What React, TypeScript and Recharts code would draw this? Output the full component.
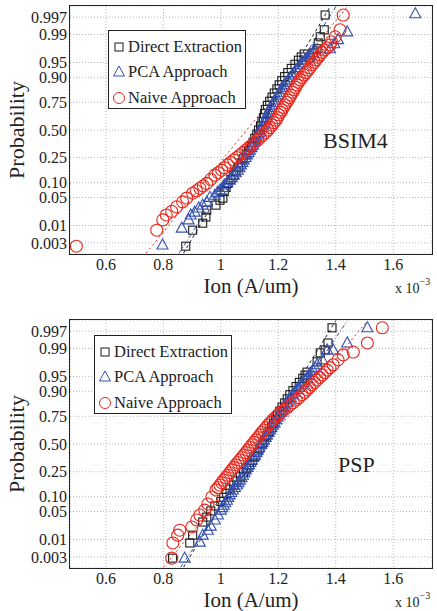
import React from 'react'
import {
  ScatterChart,
  Scatter,
  XAxis,
  YAxis,
  CartesianGrid,
  ReferenceLine,
} from 'recharts'

const FONT = '"Liberation Serif", "Times New Roman", serif'

const BLACK = '#1a1a1a'
const BLUE = '#3550b0'
const RED = '#e8281e'

// axis ticks: x in 1e-3 A/um, y is the normal quantile of each probability label
const xTicks = [0.6, 0.8, 1, 1.2, 1.4, 1.6]
const probLabels = ['0.003', '0.01', '0.05', '0.10', '0.25', '0.50', '0.75', '0.90', '0.95', '0.99', '0.997']
const probZ = [-2.748, -2.326, -1.645, -1.282, -0.674, 0, 0.674, 1.282, 1.645, 2.326, 2.748]

type Pt = [number, number] // [Ion, quantile]

// ---- BSIM4 panel ----
const bsimDirect: Pt[] = [
  [0.878, -2.83], [0.902, -2.44], [0.937, -2.27], [0.948, -2.12], [0.951, -1.95],
  [0.983, -1.83], [0.997, -1.71], [1.007, -1.66], [1.012, -1.5], [1.018, -1.4],
  [1.025, -1.3], [1.035, -1.2], [1.045, -1.1], [1.053, -1.0], [1.062, -0.9],
  [1.07, -0.8], [1.078, -0.7], [1.088, -0.6], [1.097, -0.5], [1.105, -0.4],
  [1.112, -0.3], [1.118, -0.2], [1.125, -0.1], [1.131, 0], [1.138, 0.1],
  [1.143, 0.2], [1.148, 0.3], [1.152, 0.4], [1.155, 0.5], [1.162, 0.6],
  [1.17, 0.7], [1.178, 0.8], [1.186, 0.9], [1.195, 1.0], [1.203, 1.1],
  [1.212, 1.2], [1.222, 1.3], [1.233, 1.4], [1.245, 1.5], [1.258, 1.6],
  [1.27, 1.7], [1.28, 1.78], [1.29, 1.85], [1.311, 1.76], [1.321, 1.88],
  [1.335, 1.98], [1.339, 2.12], [1.346, 2.27], [1.36, 2.44], [1.363, 2.8],
]
const bsimPca: Pt[] = [
  [0.797, -2.8], [0.864, -2.39], [0.888, -2.19], [0.895, -2.07], [0.909, -2.0],
  [0.923, -1.9], [0.937, -1.83], [0.951, -1.76], [0.962, -1.64], [0.979, -1.59],
  [0.988, -1.52], [0.997, -1.46], [1.006, -1.4], [1.014, -1.34], [1.022, -1.28],
  [1.031, -1.22], [1.038, -1.16], [1.045, -1.1], [1.052, -1.04], [1.059, -0.98],
  [1.065, -0.92], [1.07, -0.85], [1.075, -0.79], [1.08, -0.73], [1.086, -0.67],
  [1.091, -0.61], [1.096, -0.55], [1.101, -0.49], [1.107, -0.43], [1.112, -0.37],
  [1.116, -0.3], [1.119, -0.24], [1.124, -0.18], [1.129, -0.12], [1.133, -0.06],
  [1.136, 0], [1.141, 0.06], [1.147, 0.12], [1.151, 0.18], [1.154, 0.24],
  [1.158, 0.3], [1.161, 0.37], [1.165, 0.43], [1.168, 0.49], [1.173, 0.55],
  [1.178, 0.61], [1.183, 0.67], [1.188, 0.73], [1.194, 0.79], [1.199, 0.85],
  [1.204, 0.92], [1.209, 0.98], [1.214, 1.04], [1.22, 1.1], [1.227, 1.16],
  [1.234, 1.22], [1.241, 1.28], [1.248, 1.34], [1.255, 1.4], [1.262, 1.46],
  [1.269, 1.52], [1.276, 1.59], [1.284, 1.65], [1.293, 1.71], [1.302, 1.77],
  [1.311, 1.83], [1.32, 1.89], [1.328, 1.95], [1.38, 1.98], [1.395, 2.1],
  [1.408, 2.2], [1.44, 2.39], [1.677, 2.83],
]
const bsimNaive: Pt[] = [
  [0.497, -2.83], [0.777, -2.44], [0.798, -2.19], [0.81, -2.07], [0.829, -1.98],
  [0.846, -1.87], [0.867, -1.75], [0.881, -1.66], [0.902, -1.54], [0.915, -1.48],
  [0.927, -1.42], [0.939, -1.36], [0.951, -1.3], [0.965, -1.2], [0.979, -1.1],
  [0.991, -1.04], [1.003, -0.98], [1.013, -0.92], [1.024, -0.85], [1.034, -0.79],
  [1.045, -0.73], [1.055, -0.67], [1.066, -0.61], [1.077, -0.55], [1.087, -0.49],
  [1.097, -0.43], [1.108, -0.37], [1.118, -0.3], [1.129, -0.24], [1.138, -0.18],
  [1.147, -0.12], [1.156, -0.06], [1.164, 0], [1.171, 0.06], [1.178, 0.12],
  [1.185, 0.18], [1.192, 0.24], [1.197, 0.3], [1.202, 0.37], [1.208, 0.43],
  [1.213, 0.49], [1.218, 0.55], [1.223, 0.61], [1.229, 0.67], [1.234, 0.73],
  [1.239, 0.79], [1.244, 0.85], [1.25, 0.92], [1.255, 0.98], [1.26, 1.04],
  [1.265, 1.1], [1.27, 1.16], [1.276, 1.22], [1.283, 1.28], [1.29, 1.34],
  [1.297, 1.4], [1.304, 1.46], [1.311, 1.52], [1.318, 1.59], [1.325, 1.65],
  [1.332, 1.71], [1.339, 1.77], [1.346, 1.83], [1.353, 1.89], [1.36, 1.95],
  [1.37, 2.0], [1.38, 2.07], [1.385, 2.15], [1.398, 2.27], [1.415, 2.44],
  [1.426, 2.8],
]
const bsimFitDirect: Pt[] = [[0.87, -3], [1.38, 3]]
const bsimFitPca: Pt[] = [[0.855, -3], [1.4, 3]]
const bsimFitNaive: Pt[] = [[0.74, -3], [1.44, 3]]

// ---- PSP panel ----
const pspDirect: Pt[] = [
  [0.832, -2.78], [0.892, -2.41], [0.902, -2.22], [0.937, -1.9], [0.951, -1.78],
  [0.965, -1.63], [0.979, -1.51], [1.0, -1.4], [1.01, -1.3], [1.02, -1.2],
  [1.032, -1.1], [1.045, -1.0], [1.056, -0.9], [1.068, -0.8], [1.079, -0.7],
  [1.09, -0.6], [1.1, -0.5], [1.11, -0.4], [1.119, -0.3], [1.128, -0.2],
  [1.136, -0.1], [1.145, 0], [1.152, 0.1], [1.16, 0.2], [1.168, 0.3],
  [1.176, 0.4], [1.183, 0.5], [1.19, 0.6], [1.197, 0.7], [1.205, 0.8],
  [1.213, 0.9], [1.222, 1.0], [1.231, 1.1], [1.24, 1.2], [1.251, 1.3],
  [1.262, 1.4], [1.273, 1.5], [1.285, 1.6], [1.293, 1.68], [1.3, 1.75],
  [1.335, 2.0], [1.346, 2.22], [1.363, 2.29], [1.373, 2.46], [1.387, 2.83],
]
const pspPca: Pt[] = [
  [0.874, -2.78], [0.927, -2.39], [0.937, -2.22], [0.955, -2.1], [0.965, -2.0],
  [0.979, -1.85], [0.99, -1.73], [1.0, -1.61], [1.005, -1.55], [1.01, -1.49],
  [1.015, -1.43], [1.021, -1.37], [1.026, -1.3], [1.031, -1.24], [1.036, -1.18],
  [1.042, -1.12], [1.049, -1.06], [1.056, -1.0], [1.061, -0.94], [1.066, -0.88],
  [1.072, -0.82], [1.077, -0.76], [1.082, -0.7], [1.087, -0.63], [1.093, -0.57],
  [1.098, -0.51], [1.103, -0.45], [1.108, -0.39], [1.113, -0.33], [1.119, -0.27],
  [1.124, -0.21], [1.129, -0.15], [1.134, -0.08], [1.14, -0.02], [1.145, 0.04],
  [1.15, 0.1], [1.156, 0.16], [1.161, 0.22], [1.166, 0.28], [1.171, 0.34],
  [1.176, 0.4], [1.181, 0.46], [1.187, 0.52], [1.192, 0.59], [1.197, 0.65],
  [1.202, 0.71], [1.208, 0.77], [1.213, 0.83], [1.218, 0.89], [1.223, 0.95],
  [1.23, 1.01], [1.237, 1.07], [1.244, 1.13], [1.251, 1.2], [1.258, 1.26],
  [1.265, 1.32], [1.272, 1.38], [1.279, 1.44], [1.286, 1.5], [1.293, 1.56],
  [1.3, 1.62], [1.307, 1.68], [1.314, 1.74], [1.321, 1.8], [1.328, 1.86],
  [1.335, 1.93], [1.353, 2.05], [1.37, 2.29], [1.391, 2.29], [1.44, 2.46],
  [1.51, 2.83],
]
const pspNaive: Pt[] = [
  [0.829, -2.78], [0.833, -2.41], [0.85, -2.22], [0.857, -2.1], [0.899, -2.02],
  [0.916, -1.85], [0.927, -1.73], [0.944, -1.61], [0.955, -1.46], [0.969, -1.29],
  [0.983, -1.12], [0.99, -1.06], [0.997, -1.0], [1.003, -0.94], [1.01, -0.88],
  [1.017, -0.82], [1.024, -0.76], [1.031, -0.7], [1.038, -0.63], [1.045, -0.57],
  [1.052, -0.51], [1.059, -0.45], [1.066, -0.39], [1.073, -0.33], [1.08, -0.27],
  [1.087, -0.21], [1.094, -0.15], [1.101, -0.08], [1.108, -0.02], [1.115, 0.04],
  [1.122, 0.1], [1.129, 0.16], [1.136, 0.22], [1.143, 0.28], [1.15, 0.34],
  [1.157, 0.4], [1.164, 0.46], [1.172, 0.52], [1.181, 0.59], [1.19, 0.65],
  [1.199, 0.71], [1.21, 0.77], [1.22, 0.83], [1.23, 0.89], [1.241, 0.95],
  [1.252, 1.01], [1.262, 1.07], [1.272, 1.13], [1.283, 1.2], [1.292, 1.26],
  [1.3, 1.32], [1.309, 1.38], [1.318, 1.44], [1.326, 1.5], [1.335, 1.56],
  [1.344, 1.62], [1.353, 1.68], [1.362, 1.74], [1.37, 1.8], [1.38, 1.86],
  [1.391, 1.93], [1.408, 2.05], [1.426, 2.17], [1.461, 2.24], [1.51, 2.46],
  [1.562, 2.83],
]
const pspFitDirect: Pt[] = [[0.87, -3], [1.4, 3]]
const pspFitPca: Pt[] = [[0.86, -3], [1.44, 3]]
const pspFitNaive: Pt[] = [[0.8, -3], [1.51, 3]]

const legendNames = ['Direct Extraction', 'PCA Approach', 'Naive Approach']

const toRows = (pts: Pt[]) => pts.map(([x, y]) => ({ x, y }))

const SquareMark = (p: any) => (
  <rect x={p.cx - 4} y={p.cy - 4} width={8} height={8} fill="none" stroke={BLACK} strokeWidth={1.1} />
)
const TriangleMark = (p: any) => (
  <polygon
    points={`${p.cx},${p.cy - 6} ${p.cx - 5.5},${p.cy + 4} ${p.cx + 5.5},${p.cy + 4}`}
    fill="none"
    stroke={BLUE}
    strokeWidth={1.1}
  />
)
const CircleMark = (p: any) => <circle cx={p.cx} cy={p.cy} r={6} fill="none" stroke={RED} strokeWidth={1.1} />

function LegendBox({ left, top }: { left: number; top: number }) {
  const icons = [
    <rect key="s" x={3} y={3} width={8} height={8} fill="none" stroke={BLACK} strokeWidth={1} />,
    <polygon key="t" points="7,1 1.5,11 12.5,11" fill="none" stroke={BLUE} strokeWidth={1} />,
    <circle key="c" cx={7} cy={7} r={5.5} fill="none" stroke={RED} strokeWidth={1} />,
  ]
  return (
    <div
      style={{
        position: 'absolute',
        left,
        top,
        width: 138,
        height: 79,
        border: '1.5px solid #222',
        background: '#fff',
        boxSizing: 'border-box',
        fontFamily: FONT,
        fontSize: 16.5,
        color: '#222',
        paddingTop: 3,
      }}
    >
      {legendNames.map((name, i) => (
        <div key={name} style={{ display: 'flex', alignItems: 'center', height: 25.5, paddingLeft: 3 }}>
          <svg width={14} height={14} style={{ marginRight: 2 }}>
            {icons[i]}
          </svg>
          <span style={{ whiteSpace: 'nowrap' }}>{name}</span>
        </div>
      ))}
    </div>
  )
}

interface PanelProps {
  top: number
  direct: Pt[]
  pca: Pt[]
  naive: Pt[]
  fits: Pt[][]
  tag: string
  tagLeft: number
  tagTop: number
  legendLeft: number
  legendTop: number
}

function Panel({ top, direct, pca, naive, fits, tag, tagLeft, tagTop, legendLeft, legendTop }: PanelProps) {
  const fitStyles = [
    { stroke: BLACK, dash: '3 3' },
    { stroke: BLUE, dash: '4 2 1 2' },
    { stroke: RED, dash: '2 3' },
  ]
  return (
    <div style={{ position: 'absolute', left: 0, top, width: 437, height: 300 }}>
      <ScatterChart width={437} height={300} margin={{ top: 6, right: 5, bottom: 0, left: 0 }}>
        <CartesianGrid stroke="#b8b8b8" strokeDasharray="1 2" />
        <XAxis
          type="number"
          dataKey="x"
          domain={[0.475, 1.735]}
          ticks={xTicks}
          allowDataOverflow
          height={46}
          tickSize={0}
          tickMargin={5}
          axisLine={false}
          tick={{ fontSize: 16, fill: '#222', fontFamily: FONT }}
        />
        <YAxis
          type="number"
          dataKey="y"
          domain={[-3.02, 3.02]}
          ticks={probZ}
          allowDataOverflow
          width={70}
          tickSize={0}
          tickMargin={3}
          axisLine={false}
          interval={0}
          tickFormatter={(v: number) => probLabels[probZ.indexOf(v)] ?? ''}
          tick={{ fontSize: 16, fill: '#222', fontFamily: FONT }}
        />
        {fits.map((seg, i) => (
          <ReferenceLine
            key={i}
            segment={seg.map(([x, y]) => ({ x, y }))}
            stroke={fitStyles[i].stroke}
            strokeDasharray={fitStyles[i].dash}
            strokeWidth={1}
            ifOverflow="visible"
          />
        ))}
        <Scatter data={toRows(direct)} shape={SquareMark} isAnimationActive={false} />
        <Scatter data={toRows(pca)} shape={TriangleMark} isAnimationActive={false} />
        <Scatter data={toRows(naive)} shape={CircleMark} isAnimationActive={false} />
      </ScatterChart>
      <div
        style={{
          position: 'absolute',
          left: 69,
          top: 5,
          width: 364,
          height: 250,
          border: '1.5px solid #222',
          boxSizing: 'border-box',
          pointerEvents: 'none',
        }}
      />
      <LegendBox left={legendLeft} top={legendTop} />
      <div style={{ position: 'absolute', left: tagLeft, top: tagTop, fontFamily: FONT, fontSize: 22, color: '#222' }}>
        {tag}
      </div>
      <div
        style={{
          position: 'absolute',
          left: 201,
          top: 276,
          width: 100,
          textAlign: 'center',
          fontFamily: FONT,
          fontSize: 21,
          lineHeight: '20px',
          color: '#222',
          whiteSpace: 'nowrap',
        }}
      >
        Ion (A/um)
      </div>
      <div style={{ position: 'absolute', left: 395, top: 281, fontFamily: FONT, fontSize: 14, color: '#222', whiteSpace: 'nowrap' }}>
        x 10<sup style={{ fontSize: 10, verticalAlign: 'top', position: 'relative', top: -5 }}>−3</sup>
      </div>
      <div
        style={{
          position: 'absolute',
          left: 17,
          top: 130,
          transform: 'translate(-50%, -50%) rotate(-90deg)',
          fontFamily: FONT,
          fontSize: 22,
          color: '#222',
          whiteSpace: 'nowrap',
        }}
      >
        Probability
      </div>
    </div>
  )
}

export default function App() {
  return (
    <div style={{ position: 'absolute', left: 0, top: 0, width: 437, height: 611, background: '#fff', overflow: 'hidden' }}>
      <Panel
        top={0}
        direct={bsimDirect}
        pca={bsimPca}
        naive={bsimNaive}
        fits={[bsimFitDirect, bsimFitPca, bsimFitNaive]}
        tag="BSIM4"
        tagLeft={323}
        tagTop={128}
        legendLeft={108}
        legendTop={30}
      />
      <Panel
        top={314}
        direct={pspDirect}
        pca={pspPca}
        naive={pspNaive}
        fits={[pspFitDirect, pspFitPca, pspFitNaive]}
        tag="PSP"
        tagLeft={338}
        tagTop={138}
        legendLeft={94}
        legendTop={21}
      />
    </div>
  )
}
